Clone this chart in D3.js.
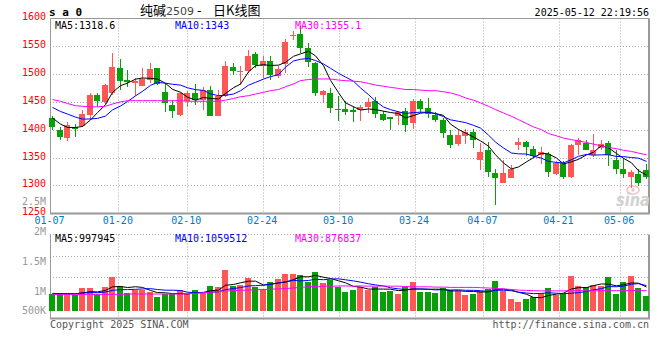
<!DOCTYPE html>
<html><head><meta charset="utf-8">
<script src="https://cdn.jsdelivr.net/npm/d3@7"></script>
<style>body{margin:0;background:#fff}svg{display:block}</style>
</head><body><svg id="c" width="660" height="360"></svg>
<script>
// ---------- data ----------
const dates = ["01-07","01-08","01-09","01-10","01-13","01-14","01-15","01-16","01-17","01-20","01-21","01-22","01-23","01-24","01-27","02-05","02-06","02-07","02-10","02-11","02-12","02-13","02-14","02-17","02-18","02-19","02-20","02-21","02-24","02-25","02-26","02-27","02-28","03-03","03-04","03-05","03-06","03-07","03-10","03-11","03-12","03-13","03-14","03-17","03-18","03-19","03-20","03-21","03-24","03-25","03-26","03-27","03-28","03-31","04-01","04-02","04-03","04-07","04-08","04-09","04-10","04-11","04-14","04-15","04-16","04-17","04-18","04-21","04-22","04-23","04-24","04-25","04-28","04-29","04-30","05-06","05-07","05-08","05-09","05-12"];
const open = [1421,1400,1385,1404,1406,1427,1462,1449,1466,1510, 1490,1483,1479,1489,1510,1467,1445,1427,1451,1466, 1454,1472,1424,1460,1513,1503,1505,1536,1514,1524, 1496,1518,1568,1571,1546,1519,1462,1466,1437,1438, 1436,1436,1440,1451,1429,1422,1424,1433,1412,1451, 1439,1426,1417,1391,1374,1389,1396,1345,1363,1323, 1305,1314,1373,1378,1366,1355,1357,1320,1341,1315, 1373,1376,1354,1367,1376,1346,1330,1315,1320,1328];
const high = [1425,1404,1414,1410,1436,1465,1465,1482,1538,1526, 1507,1492,1510,1520,1511,1483,1454,1468,1469,1482, 1477,1478,1472,1523,1520,1514,1543,1540,1532,1532, 1514,1563,1577,1586,1555,1522,1471,1474,1460,1451, 1443,1445,1457,1458,1433,1423,1433,1439,1455,1455, 1456,1431,1421,1399,1401,1401,1402,1377,1378,1329, 1345,1336,1385,1379,1370,1369,1360,1344,1344,1374, 1385,1381,1393,1381,1379,1363,1349,1327,1330,1338];
const low = [1399,1382,1379,1386,1405,1418,1440,1446,1463,1471, 1477,1461,1479,1483,1480,1431,1421,1424,1440,1444, 1436,1424,1424,1459,1498,1481,1502,1511,1493,1490, 1493,1502,1561,1537,1513,1460,1448,1430,1415,1427, 1413,1415,1430,1421,1415,1400,1409,1395,1402,1430, 1421,1413,1385,1368,1371,1374,1368,1328,1316,1265, 1305,1313,1364,1352,1349,1338,1316,1319,1311,1314, 1355,1363,1351,1364,1335,1320,1314,1296,1299,1311];
const close = [1404,1386,1409,1402,1428,1462,1452,1480,1513,1488, 1485,1487,1491,1509,1482,1447,1433,1465,1465,1454, 1472,1424,1460,1515,1505,1505,1533,1516,1524,1498, 1508,1558,1570,1546,1522,1466,1470,1439,1435,1431, 1431,1440,1449,1429,1417,1419,1431,1409,1451,1438, 1428,1418,1394,1372,1390,1396,1382,1360,1324,1313, 1322,1329,1378,1369,1352,1360,1324,1341,1315,1373, 1381,1364,1364,1375,1354,1329,1321,1324,1304,1315];
const priorClose = [1459,1456,1456,1464,1460,1441,1439,1402,1419];
const ma30 = [1454,1451,1447,1443,1442,1441,1441,1442,1446,1450, 1452,1452,1452,1452,1452,1452,1452,1452,1451,1451, 1451,1451,1451,1453,1456,1459,1461,1464,1467,1470, 1472,1477,1482,1488,1490,1491,1491,1491,1489,1488, 1487,1486,1483,1480,1478,1476,1474,1472,1472,1471, 1470,1470,1468,1466,1462,1457,1453,1448,1442,1436, 1430,1424,1418,1411,1405,1400,1393,1389,1385,1382, 1380,1377,1374,1371,1368,1366,1363,1361,1358,1355];
const volume = [1000000,1011000,1000000,983000,1100000,1100000,994000,1117000,1283000,1133000, 1011000,1061000,1061000,1033000,950000,994000,994000,1067000,994000,1067000, 1011000,1133000,1117000,1400000,1133000,1150000,1267000,1122000,1078000,1200000, 1250000,1333000,1333000,1317000,1200000,1367000,1178000,1233000,1122000,1033000, 1067000,1122000,1067000,1122000,1033000,1056000,1000000,1122000,1206000,1033000, 1033000,1011000,1106000,1067000,1056000,983000,1000000,1056000,1083000,1222000, 1044000,922000,872000,922000,956000,1022000,1106000,983000,1000000,1306000, 1133000,1111000,1150000,1139000,1283000,1000000,1200000,1306000,1106000,972000];
const priorVolume = [990000,980000,1000000,990000,1000000,1020000,1010000,1000000,1020000];
const volMa30 = [994000,994000,994000,994000,994000,994000,994000,994000,994000,994000, 1000000,1000000,1000000,1000000,1000000,1000000,1000000,1000000,1005000,1010000, 1020000,1030000,1040000,1050000,1055000,1060000,1065000,1070000,1075000,1080000, 1085000,1090000,1100000,1110000,1120000,1125000,1130000,1130000,1133000,1135000, 1130000,1135000,1130000,1130000,1133000,1130000,1130000,1125000,1120000,1120000, 1120000,1115000,1115000,1110000,1110000,1110000,1110000,1105000,1100000,1095000, 1085000,1075000,1065000,1060000,1055000,1052000,1052000,1052000,1052000,1054000, 1054000,1054000,1054000,1055000,1055000,1055000,1056000,1056000,1056000,1056000];
const priceTicks = [1600,1550,1500,1450,1400,1350,1300,1250];
const volTicks = [2500000,2000000,1500000,1000000,500000];
const volTickLabels = ["2.5M","2M","1.5M","1M","500K"];
const xTickDates = ["01-07","01-20","02-10","02-24","03-10","03-24","04-07","04-21","05-06"];
const priceLegend = ["MA5:1318.6","MA10:1343","MA30:1355.1"];
const volLegend = ["MA5:997945","MA10:1059512","MA30:876837"];
const symbol = "s a 0";
const titleParts = ["纯碱","2509","-","日K线图"];
const timestamp = "2025-05-12 22:19:56";
const footerLeft = "Copyright 2025 SINA.COM";
const footerRight = "http://finance.sina.com.cn";

// ---------- helpers ----------
function movingAvg(vals, prior, n){
  const all = prior.concat(vals), off = prior.length;
  return vals.map((v,i)=>d3.mean(all.slice(off+i-n+1, off+i+1)));
}
const ma5 = movingAvg(close, priorClose, 5);
const ma10 = movingAvg(close, priorClose, 10);
const vma5 = movingAvg(volume, priorVolume, 5);
const vma10 = movingAvg(volume, priorVolume, 10);

const L=50, R=649, T=18.5, B=213.5, VT=234.5, VB=318.5, volBase=311;
const RED="#ff5656", GREEN="#08a008", GRID="#aaa", BORDER="#999";
const mono='"DejaVu Sans Mono", monospace';

const svg=d3.select("#c");
svg.append("rect").attr("width",660).attr("height",360).attr("fill","#fff");

const x = d3.scaleBand().domain(dates).range([49,650]);
const xg = d3.scalePoint().domain(dates).range([L,650]);
const y = d3.scaleLinear().domain([1250,1600]).range([213.3,18.2]);
const vy = d3.scaleLinear().domain([1e6,2e6]).range([294,234]);
const px = d => Math.floor(x(d)+x.bandwidth()/2);
const gx = d => Math.round(xg(d))+0.5;

// ---------- grids ----------
const grid = svg.append("g").attr("stroke",GRID).attr("stroke-dasharray","1,2").attr("fill","none");
priceTicks.filter(t=>t>1250&&t<1600).forEach(t=>{
  const yy=Math.round(y(t))+0.5;
  grid.append("line").attr("x1",L).attr("x2",R).attr("y1",yy).attr("y2",yy);
});
xTickDates.slice(1).forEach(d=>{
  grid.append("line").attr("x1",gx(d)).attr("x2",gx(d)).attr("y1",T).attr("y2",B);
  grid.append("line").attr("x1",gx(d)).attr("x2",gx(d)).attr("y1",VT).attr("y2",VB+3);
});
const vgrid = d3.scaleLinear().domain([0,4]).range([VT,VB]);
[1,2].forEach(k=>{
  const yy=Math.round(vgrid(k))+0.5;
  grid.append("line").attr("x1",L).attr("x2",R).attr("y1",yy).attr("y2",yy);
});
grid.append("line").attr("x1",L).attr("x2",R).attr("y1",VT).attr("y2",VT);

// ---------- borders ----------
const bd = svg.append("g").attr("stroke",BORDER).attr("fill","none");
bd.append("line").attr("x1",L+0.5).attr("x2",R).attr("y1",T).attr("y2",T);
bd.append("line").attr("x1",L+0.5).attr("x2",L+0.5).attr("y1",T).attr("y2",B);
bd.append("line").attr("x1",L).attr("x2",R+1).attr("y1",B).attr("y2",B).attr("stroke-width",2);
bd.append("line").attr("x1",R).attr("x2",R).attr("y1",T).attr("y2",B).attr("stroke-width",2);
bd.append("line").attr("x1",L+0.5).attr("x2",L+0.5).attr("y1",VT).attr("y2",VB);
bd.append("line").attr("x1",L).attr("x2",R+1).attr("y1",VB).attr("y2",VB).attr("stroke-width",2);
bd.append("line").attr("x1",R).attr("x2",R).attr("y1",VT).attr("y2",VB).attr("stroke-width",2);

// ---------- watermark ----------
const wm = svg.append("g");
wm.append("ellipse").attr("cx",633).attr("cy",190).attr("rx",6).attr("ry",4).attr("fill","none").attr("stroke","#f2c4c4").attr("stroke-width",1.6);
wm.append("circle").attr("cx",633).attr("cy",190).attr("r",1.8).attr("fill","#f2c4c4");
wm.append("text").attr("x",616).attr("y",206).attr("font-family","DejaVu Sans").attr("font-style","italic").attr("font-weight","bold").attr("font-size",17)
  .attr("textLength",34).attr("lengthAdjust","spacingAndGlyphs").attr("fill","#d2d2d2").text("sina");

// ---------- candles ----------
const cg = svg.append("g").attr("shape-rendering","crispEdges");
dates.forEach((d,i)=>{
  const up = close[i]>=open[i], col = up?RED:GREEN, c=px(d);
  cg.append("line").attr("x1",c+0.5).attr("x2",c+0.5).attr("y1",Math.round(y(high[i]))).attr("y2",Math.round(y(low[i]))).attr("stroke",col);
  const y0=Math.round(y(Math.max(open[i],close[i]))), y1=Math.round(y(Math.min(open[i],close[i])));
  cg.append("rect").attr("x",c-3).attr("width",6).attr("y",y0).attr("height",Math.max(1,y1-y0)).attr("fill",col);
});

// ---------- price MA lines ----------
const lineP = d3.line().x((v,i)=>px(dates[i])+0.5).y(v=>y(v));
[[ma5,"#000"],[ma10,"#0000ff"],[ma30,"#ff00ff"]].forEach(([arr,col])=>{
  svg.append("path").attr("d",lineP(arr)).attr("fill","none").attr("stroke",col).attr("stroke-width",1);
});

// ---------- volume bars ----------
const vg = svg.append("g").attr("shape-rendering","crispEdges");
dates.forEach((d,i)=>{
  const up = close[i]>=open[i], c=px(d), yt=Math.round(vy(volume[i]));
  vg.append("rect").attr("x",c-3).attr("width",6).attr("y",yt).attr("height",volBase-yt).attr("fill",up?RED:GREEN);
});
const lineV = d3.line().x((v,i)=>px(dates[i])+0.5).y(v=>vy(v));
[[vma5,"#000"],[vma10,"#0000ff"],[volMa30,"#ff00ff"]].forEach(([arr,col])=>{
  svg.append("path").attr("d",lineV(arr)).attr("fill","none").attr("stroke",col).attr("stroke-width",1);
});

// ---------- axes labels ----------
const yAxis = d3.axisLeft(y).tickValues(priceTicks).tickSize(0).tickPadding(4).tickFormat(d3.format("d"));
const ya = svg.append("g").attr("transform",`translate(${L},0)`).call(yAxis);
ya.select(".domain").remove();
ya.selectAll("text").attr("fill","#ff0000").attr("font-family",mono).attr("font-size",10).attr("dy","0.15em");

const xAxis = d3.axisBottom(xg).tickValues(xTickDates).tickSize(0).tickPadding(4);
const xa = svg.append("g").attr("transform","translate(-1,213)").call(xAxis);
xa.select(".domain").remove();
xa.selectAll("text").attr("fill","#0078c8").attr("font-family",mono).attr("font-size",10);

svg.append("g").selectAll("text").data(volTicks).join("text")
  .attr("x",46).attr("y",v=>Math.min(vy(v)+0.5,314)).attr("text-anchor","end")
  .attr("font-family",mono).attr("font-size",10).attr("fill","#999")
  .text((v,i)=>volTickLabels[i]);

// ---------- legends ----------
const legCols=["#000","#0000ff","#ff00ff"], legX=[55,175,295];
priceLegend.forEach((t,i)=>svg.append("text").attr("x",legX[i]).attr("y",28.5).attr("font-family",mono).attr("font-size",10).attr("fill",legCols[i]).text(t));
volLegend.forEach((t,i)=>svg.append("text").attr("x",legX[i]).attr("y",241.8).attr("font-family",mono).attr("font-size",10).attr("fill",legCols[i]).text(t));

// ---------- title ----------
svg.append("text").attr("x",49).attr("y",16).attr("font-family",mono).attr("font-weight","bold").attr("font-size",11).attr("fill","#000").text(symbol);
const tt = svg.append("text").attr("y",15).attr("font-family",'"Noto Sans CJK SC", sans-serif').attr("font-size",13).attr("fill","#000");
tt.append("tspan").attr("x",140).text(titleParts[0]);
tt.append("tspan").attr("x",166).attr("font-size",11).attr("fill","#444").attr("font-family",'"DejaVu Sans", sans-serif').text(titleParts[1]);
tt.append("tspan").attr("x",197).text(titleParts[2]);
tt.append("tspan").attr("x",213).text(titleParts[3]);
svg.append("text").attr("x",649).attr("y",16).attr("text-anchor","end").attr("font-family",mono).attr("font-size",10).attr("fill","#000").text(timestamp);

// ---------- footer ----------
svg.append("text").attr("x",50).attr("y",328).attr("font-family",mono).attr("font-size",10).attr("fill","#555").text(footerLeft);
svg.append("text").attr("x",649).attr("y",328).attr("text-anchor","end").attr("font-family",mono).attr("font-size",10).attr("fill","#555").text(footerRight);
</script></body></html>
